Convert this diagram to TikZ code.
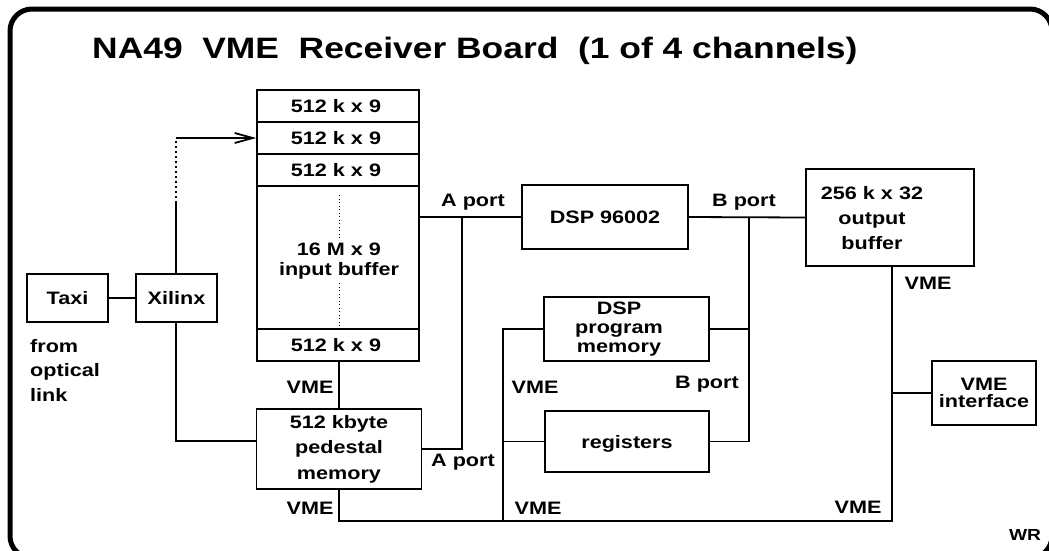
\documentclass[tikz,border=0pt]{standalone}
\usepackage{fontspec}
\setmainfont{Liberation Sans}[FakeStretch=1.2]
\usetikzlibrary{arrows.meta}
\begin{document}
\begin{tikzpicture}[x=1pt,y=-1pt,
  lab/.style={font=\bfseries\fontsize{18}{20}\selectfont, inner sep=0pt, align=center},
  box/.style={draw, line width=1.8pt, inner sep=0pt, align=center, font=\bfseries\fontsize{18}{20}\selectfont},
  wire/.style={line width=1.8pt},
  divider/.style={line width=1.2pt}
]
\useasboundingbox (0,0) rectangle (1049,550);
\draw[line width=5pt, rounded corners=22pt] (10,9) rectangle (1052,558);

\node[font=\bfseries\fontsize{29.5}{32}\selectfont, anchor=west, inner sep=0pt] (title) at (92,51) {NA49\ \ VME\ \ Receiver Board\ \ (1 of 4 channels)};

% boxes
\node[box, minimum width=81, minimum height=48] (taxi) at (67.5,298) {Taxi};
\node[box, minimum width=81, minimum height=48] (xil) at (176.5,298) {Xilinx};
\node[box, minimum width=162, minimum height=271] (ibuf) at (338,225.5) {};
\node[box, minimum width=165, minimum height=80, font=\bfseries\fontsize{18}{25.5}\selectfont] (ped) at (339,449) {512 kbyte\\pedestal\\memory};
\node[box, minimum width=166, minimum height=64] (dsp) at (605,217) {DSP 96002};
\node[box, minimum width=165, minimum height=64] (prog) at (626.5,329) {};
\node[box, minimum width=164, minimum height=61] (reg) at (627,441.5) {};
\node[box, minimum width=168, minimum height=97] (obuf) at (890,217.5) {};
\node[box, minimum width=104, minimum height=64, font=\bfseries\fontsize{18}{17}\selectfont] (vmei) at (984,393) {VME\\interface};

% texts inside boxes
\node[lab, font=\bfseries\fontsize{18}{19}\selectfont] (progt) at (619,329) {DSP\\program\\memory};
\node[lab] (regt) at (627,444) {registers};
\node[lab, font=\bfseries\fontsize{18}{25}\selectfont] (obuft) at (872,218) {256 k x 32\\output\\buffer};

% input buffer rows
\draw[divider] (ibuf.west |- 0,122) -- (ibuf.east |- 0,122);
\draw[divider] (ibuf.west |- 0,154) -- (ibuf.east |- 0,154);
\draw[divider] (ibuf.west |- 0,186) -- (ibuf.east |- 0,186);
\draw[divider] (ibuf.west |- 0,329) -- (ibuf.east |- 0,329);
\node[lab] (r1) at (336,106) {512 k x 9};
\node[lab] (r2) at (336,138) {512 k x 9};
\node[lab] (r3) at (336,170) {512 k x 9};
\node[lab] (r4) at (336,345) {512 k x 9};
\node[lab] (ib) at (339,261) {16 M x 9\\input buffer};
\draw[line width=0.9pt, dash pattern=on 1pt off 2.5pt] (339,195) -- (339,238);
\draw[line width=0.9pt, dash pattern=on 1pt off 2.5pt] (339,283) -- (339,327);

% left side
\node[lab, anchor=west, align=left, font=\bfseries\fontsize{18}{24.5}\selectfont] (from) at (30,370) {from\\optical\\link};
\draw[wire] (taxi) -- (xil);
\coordinate (d1) at (176,203);
\coordinate (d2) at (176,138);
\draw[wire] (xil.north -| d1) -- (d1);
\draw[wire, dash pattern=on 2pt off 3pt] (d1) -- (d2);
\draw[wire, -{Straight Barb[length=18pt,width=10pt]}] (d2) -- (d2 -| ibuf.west);
\draw[wire] (xil.south -| d1) |- ([yshift=8pt]ped.west);

% VME between buffer and pedestal
\draw[wire] (ibuf.south -| ped.north) -- (ped.north);
\node[lab] (vme1) at (310,387) {VME};
\node[lab] (vme2) at (310,508) {VME};

% A port
\coordinate (aj) at (462,217);
\draw[wire] (ibuf.east |- dsp.west) -- (dsp.west);
\draw[wire] (ped.east) -| (aj);
\node[lab] (ap1) at (473,202) {A port};
\node[lab] (ap2) at (463,462) {A port};

% B port
\coordinate (bj) at (749,217);
\draw[wire] (dsp.east) -- (obuf.west);
\draw[wire] (bj) |- (reg.east);
\draw[wire] (prog.east) -- (prog.east -| bj);
\node[lab] (bp1) at (744,202) {B port};
\node[lab] (bp2) at (707,384) {B port};

% VME bus
\coordinate (vj) at (503,521);
\coordinate (oj) at (892,521);
\draw[wire] (prog.west) -| (vj);
\draw[wire] (reg.west) -- (reg.west -| vj);
\draw[wire] (ped.south) |- (oj) -- (oj |- obuf.south);
\draw[wire] (oj |- vmei.west) -- (vmei.west);
\node[lab] (vme3) at (535,387) {VME};
\node[lab] (vme4) at (538,508) {VME};
\node[lab] (vme5) at (928,283) {VME};
\node[lab] (vme6) at (858,507) {VME};

\node[lab, font=\bfseries\fontsize{16}{17}\selectfont] (wr) at (1025,535) {WR};
\end{tikzpicture}
\end{document}
